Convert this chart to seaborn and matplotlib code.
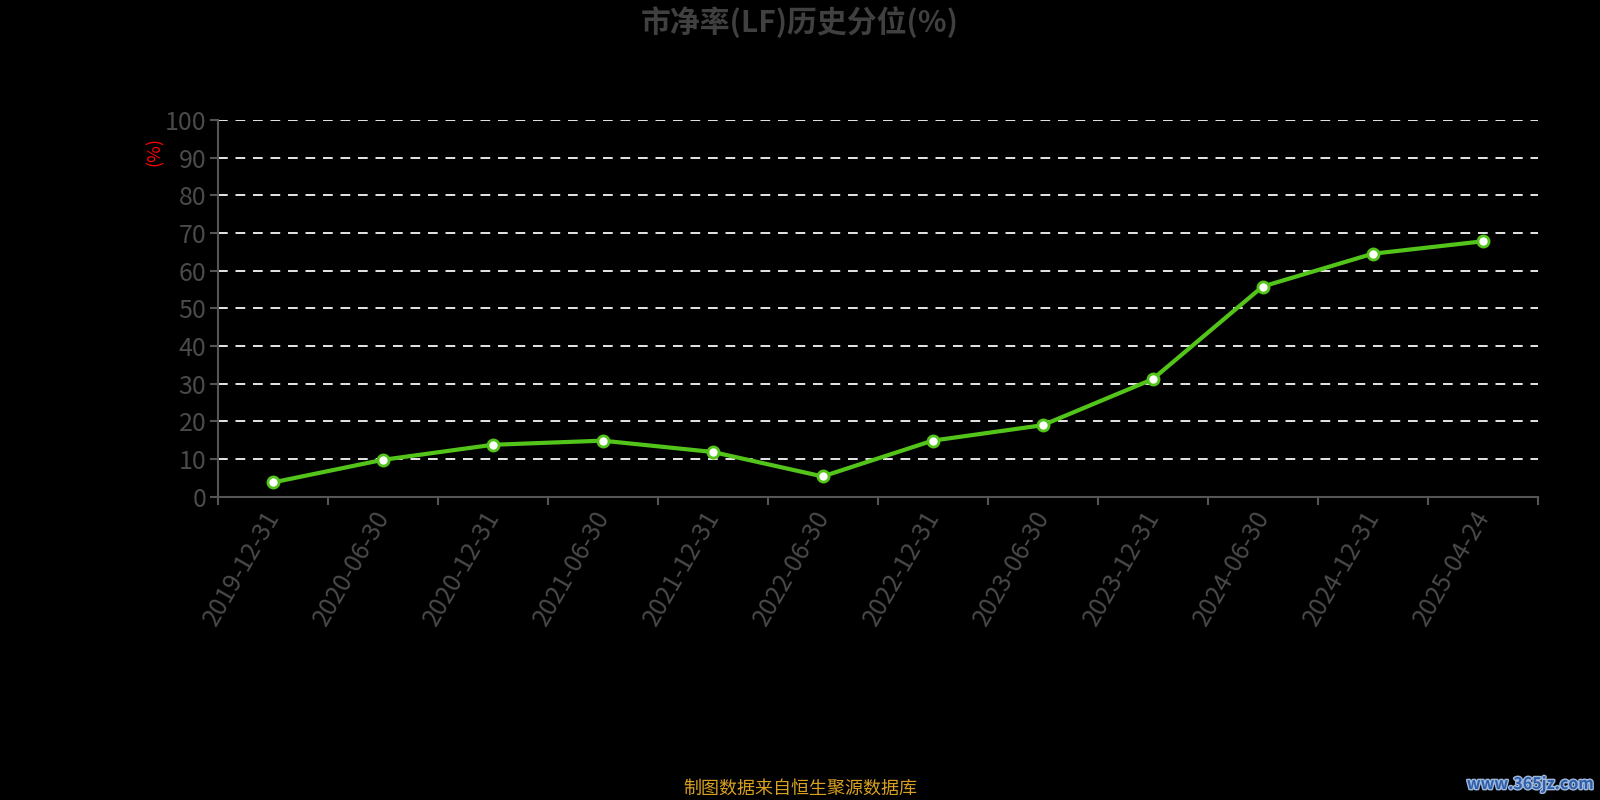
import matplotlib
matplotlib.use("Agg")
import matplotlib.pyplot as plt
import matplotlib.patheffects as pe
import matplotlib.transforms as mtransforms
import numpy as np
import pandas as pd
import seaborn as sns

dates = ["2019-12-31", "2020-06-30", "2020-12-31", "2021-06-30", "2021-12-31",
         "2022-06-30", "2022-12-31", "2023-06-30", "2023-12-31", "2024-06-30",
         "2024-12-31", "2025-04-24"]
pct = [3.8, 9.8, 13.8, 14.9, 11.9, 5.4, 14.9, 19.0, 31.2, 55.8, 64.5, 67.8]
y_ticks = list(range(0, 101, 10))

sns.set_theme(style="dark")
plt.rcParams['font.family'] = ['Noto Sans CJK SC', 'DejaVu Sans']
plt.rcParams['axes.unicode_minus'] = False

df = pd.DataFrame({"pos": np.arange(len(dates)), "pct": pct})

fig = plt.figure(figsize=(16, 8), dpi=100, facecolor="black")
ax = fig.add_axes([0.136, 0.379, 0.825, 0.471])
ax.set_facecolor("black")

for v in y_ticks[1:]:
    ax.axhline(v, color="#e6e6e6", lw=1.4, ls=(0, (5, 4)), zorder=1)

sns.lineplot(data=df, x="pos", y="pct", ax=ax, color="#52c41a", lw=3,
             marker="o", markersize=8, markerfacecolor="white",
             markeredgecolor="#52c41a", markeredgewidth=2, zorder=3)

tick_color = "#4a4a4a"
ax.set_xlim(-0.5, len(dates) - 0.5)
ax.set_ylim(0, 100)
ax.set_yticks(y_ticks)
ax.set_yticklabels([str(v) for v in y_ticks], fontsize=18, color=tick_color,
                   fontweight="light")
ax.set_xticks(np.arange(-0.5, len(dates), 1))
ax.set_xticklabels([])
ax.tick_params(axis="x", length=6, width=1.5, color="#555555", bottom=True)
ax.tick_params(axis="y", length=6, width=1.5, color="#555555", left=True, pad=2)
ax.set_xlabel("")
ax.set_ylabel("")

# rotated date labels under each category
lab_tr = mtransforms.blended_transform_factory(ax.transData, ax.transAxes) + \
    mtransforms.ScaledTranslation(0.01, -0.16, fig.dpi_scale_trans)
for i, d in enumerate(dates):
    ax.text(i, 0, d, transform=lab_tr, rotation=60, ha="right", va="center",
            rotation_mode="anchor", fontsize=18, color=tick_color,
            fontweight="light")

for s in ["top", "right"]:
    ax.spines[s].set_visible(False)
for s in ["left", "bottom"]:
    ax.spines[s].set_visible(True)
    ax.spines[s].set_color("#555555")
    ax.spines[s].set_linewidth(1.5)

fig.text(0.097, 0.81, "(%)", color="red", fontsize=13, rotation=90,
         ha="center", va="center")
fig.text(0.5, 0.972, "市净率(LF)历史分位(%)", color="#404040", fontsize=21.5,
         fontweight="bold", ha="center", va="center")
fig.text(0.5, 0.014, "制图数据来自恒生聚源数据库", color="#d9a020", fontsize=13,
         ha="center", va="center")
fig.text(0.996, 0.02, "www.365jz.com", color="#2f5fa8", fontsize=11.5,
         fontweight="bold", ha="right", va="center",
         path_effects=[pe.withStroke(linewidth=2, foreground="#9fb8dd")])

fig.savefig("out.png", dpi=100, facecolor="black")
